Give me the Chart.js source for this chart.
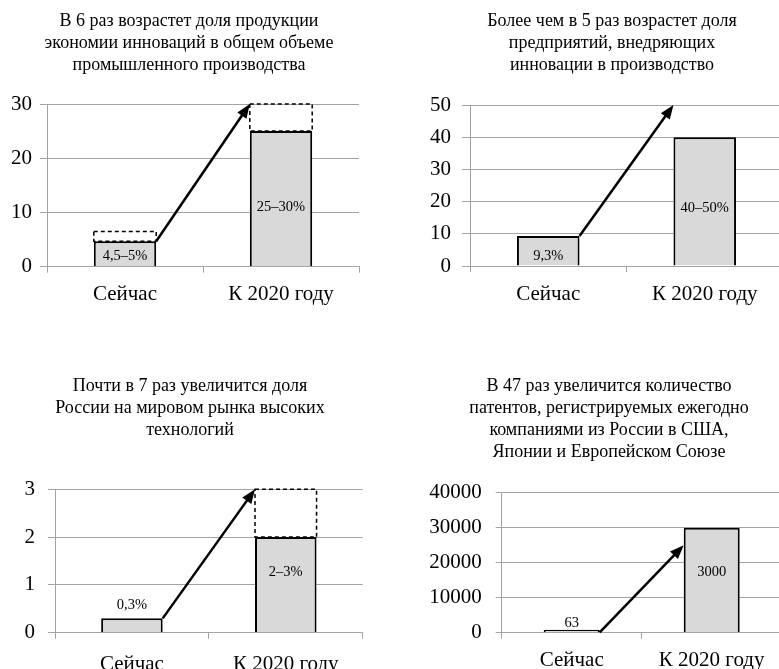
<!DOCTYPE html>
<html lang="ru">
<head>
<meta charset="UTF-8">
<title>Инновации к 2020 году</title>
<script src="https://cdn.jsdelivr.net/npm/chart.js"></script>
<style>
  body { margin: 0; background: #fff; width: 779px; height: 669px; overflow: hidden; position: relative; }
  canvas { position: absolute; }
</style>
</head>
<body>
<canvas id="chart1" width="390" height="310" style="left:0;top:0"></canvas>
<canvas id="chart2" width="393" height="310" style="left:390px;top:0"></canvas>
<canvas id="chart3" width="390" height="320" style="left:0;top:360px"></canvas>
<canvas id="chart4" width="392" height="320" style="left:390px;top:360px"></canvas>

<script>
// dados
const categories = ['Сейчас', 'К 2020 году'];

const title1 = ['В 6 раз возрастет доля продукции', 'экономии инноваций в общем объеме', 'промышленного производства'];
const values1 = [4.7, 25];
const rangeTop1 = [6.5, 30];
const labels1 = ['4,5–5%', '25–30%'];
const arrow1 = [4.7, 30];
const yTicks1 = [0, 10, 20, 30];

const title2 = ['Более чем в 5 раз возрастет доля', 'предприятий, внедряющих', 'инновации в производство'];
const values2 = [9.3, 40];
const labels2 = ['9,3%', '40–50%'];
const arrow2 = [9.3, 50];
const yTicks2 = [0, 10, 20, 30, 40, 50];

const title3 = ['Почти в 7 раз увеличится доля', 'России на мировом рынка высоких', 'технологий'];
const values3 = [0.3, 2];
const rangeTop3 = [null, 3];
const labels3 = ['0,3%', '2–3%'];
const arrow3 = [0.3, 3];
const yTicks3 = [0, 1, 2, 3];

const title4 = ['В 47 раз увеличится количество', 'патентов, регистрируемых ежегодно', 'компаниями из России в США,', 'Японии и Европейском Союзе'];
const values4 = [63, 30000];
const labels4 = ['63', '3000'];
const arrow4 = [63, 25000];
const yTicks4 = [0, 10000, 20000, 30000, 40000];

const serif = "'Liberation Serif', 'Times New Roman', serif";
const gray = '#a3a3a3';

function drawArrow(ctx, x1, y1, x2, y2) {
  const ang = Math.atan2(y2 - y1, x2 - x1);
  const head = 14, half = 5.5;
  const bx = x2 - head * Math.cos(ang);
  const by = y2 - head * Math.sin(ang);
  ctx.save();
  ctx.strokeStyle = '#000';
  ctx.fillStyle = '#000';
  ctx.lineWidth = 2.5;
  ctx.beginPath();
  ctx.moveTo(x1, y1);
  ctx.lineTo(bx + Math.cos(ang), by + Math.sin(ang));
  ctx.stroke();
  ctx.beginPath();
  ctx.moveTo(x2, y2);
  ctx.lineTo(bx + half * Math.sin(ang), by - half * Math.cos(ang));
  ctx.lineTo(bx - half * Math.sin(ang), by + half * Math.cos(ang));
  ctx.closePath();
  ctx.fill();
  ctx.restore();
}

function makePanel(id, p, box) {
  const overlay = {
    id: 'overlay',
    afterDraw(chart) {
      // titulo
      const ctx = chart.ctx;
      ctx.save();
      ctx.font = '18px ' + serif;
      ctx.fillStyle = '#000';
      ctx.textAlign = 'center';
      ctx.textBaseline = 'middle';
      p.title.forEach(function (line, i) {
        ctx.fillText(line, box.titleX, box.titleY + i * 21.7);
      });
      ctx.restore();
    },
    afterDatasetsDraw(chart) {
      const ctx = chart.ctx;
      const y = chart.scales.y;
      const bars = chart.getDatasetMeta(0).data;

      if (p.rangeTop) {
        const boxes = chart.getDatasetMeta(1).data;
        ctx.save();
        ctx.setLineDash([4, 3]);
        ctx.lineWidth = 1.5;
        ctx.strokeStyle = '#000';
        boxes.forEach(function (b, i) {
          if (p.rangeTop[i] == null) return;
          ctx.strokeRect(b.x - b.width / 2, b.y, b.width, b.base - b.y);
        });
        ctx.restore();
      }

      ctx.save();
      ctx.font = '14.5px ' + serif;
      ctx.fillStyle = '#000';
      ctx.textAlign = 'center';
      ctx.textBaseline = 'middle';
      bars.forEach(function (b, i) {
        ctx.fillText(p.labels[i], b.x, (b.y + b.base) / 2 + box.labelDy[i]);
      });
      ctx.restore();

      const a = bars[0], c = bars[1];
      drawArrow(ctx, a.x + a.width / 2, y.getPixelForValue(p.arrow[0]),
                c.x - c.width / 2, y.getPixelForValue(p.arrow[1]));
    }
  };

  const datasets = [{
    data: p.values,
    backgroundColor: '#d9d9d9',
    borderColor: '#000',
    borderWidth: 2,
    borderSkipped: 'start',
    minBarLength: 3
  }];
  if (p.rangeTop) {
    datasets.push({
      data: p.rangeTop.map(function (t, i) { return t == null ? null : [p.values[i], t]; }),
      backgroundColor: 'rgba(0,0,0,0)',
      borderWidth: 0
    });
  }

  new Chart(document.getElementById(id), {
    type: 'bar',
    data: { labels: categories, datasets: datasets },
    options: {
      responsive: false,
      animation: false,
      devicePixelRatio: 1,
      categoryPercentage: 0.4,
      barPercentage: 1,
      layout: { padding: { left: 0, right: box.padR, top: box.padT, bottom: 0 } },
      plugins: {
        legend: { display: false },
        tooltip: { enabled: false },
        title: { display: false }
      },
      scales: {
        x: {
          stacked: true,
          afterFit: function (s) { s.height = box.xH; },
          grid: { offset: true, drawOnChartArea: false, drawTicks: true, tickLength: 6, color: gray },
          border: { display: true, color: gray, width: 1 },
          ticks: { color: '#000', padding: box.xPad, font: { family: serif, size: 21 } }
        },
        y: {
          min: 0,
          max: p.yTicks[p.yTicks.length - 1],
          afterFit: function (s) { s.width = box.yW; },
          afterBuildTicks: function (s) { s.ticks = p.yTicks.map(function (v) { return { value: v }; }); },
          grid: { color: gray, lineWidth: 1, drawTicks: true, tickLength: box.yTick },
          border: { display: true, color: gray, width: 1 },
          ticks: {
            color: '#000',
            padding: box.yPad,
            font: { family: serif, size: 21 },
            callback: function (v) { return String(v); }
          }
        }
      }
    },
    plugins: [overlay]
  });
}

makePanel('chart1',
  { title: title1, values: values1, rangeTop: rangeTop1, labels: labels1, arrow: arrow1, yTicks: yTicks1 },
  { padR: 31, padT: 104, titleX: 189, titleY: 21.7, yW: 47, yTick: 7, yPad: 8, xH: 43.3, xPad: 9, labelDy: [2, 9] });

makePanel('chart2',
  { title: title2, values: values2, rangeTop: null, labels: labels2, arrow: arrow2, yTicks: yTicks2 },
  { padR: 0, padT: 105, titleX: 222, titleY: 21.7, yW: 80, yTick: 8, yPad: 11, xH: 44, xPad: 10, labelDy: [5, 7] });

makePanel('chart3',
  { title: title3, values: values3, rangeTop: rangeTop3, labels: labels3, arrow: arrow3, yTicks: yTicks3 },
  { padR: 27.3, padT: 129.3, titleX: 190, titleY: 26.7, yW: 55, yTick: 7, yPad: 13, xH: 47.3, xPad: 13, labelDy: [-20, -12] });

makePanel('chart4',
  { title: title4, values: values4, rangeTop: null, labels: labels4, arrow: arrow4, yTicks: yTicks4 },
  { padR: 0.3, padT: 132.7, titleX: 219, titleY: 26.7, yW: 111.7, yTick: 6, yPad: 14, xH: 47.3, xPad: 9, labelDy: [-8, -8] });
</script>
</body>
</html>
